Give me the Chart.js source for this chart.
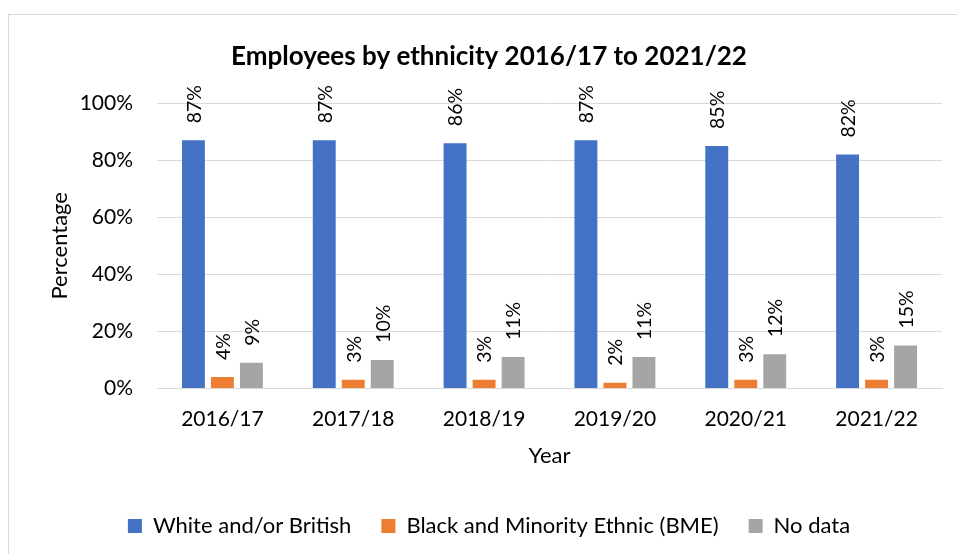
<!DOCTYPE html>
<html>
<head>
<meta charset="utf-8">
<script src="https://cdn.jsdelivr.net/npm/chart.js@4"></script>
<style>
  html, body { margin: 0; padding: 0; background: #fff; }
  #wrap { width: 957px; height: 554px; }
</style>
</head>
<body>
<div id="wrap"><canvas id="c" width="957" height="554"></canvas></div>
<script>
// Employees by ethnicity, percentage of workforce per year
const years = ['2016/17', '2017/18', '2018/19', '2019/20', '2020/21', '2021/22'];
const whiteBritish = [87, 87, 86, 87, 85, 82];
const bme = [4, 3, 3, 2, 3, 3];
const noData = [9, 10, 11, 11, 12, 15];
const yTicks = [0, 20, 40, 60, 80, 100];

const FONT = "Lato, 'Open Sans', 'Liberation Sans', sans-serif";

// Light frame around the chart
const framePlugin = {
  id: 'frame',
  beforeDraw(chart) {
    const ctx = chart.ctx;
    ctx.save();
    ctx.fillStyle = '#fff';
    ctx.fillRect(0, 0, chart.width, chart.height);
    ctx.strokeStyle = '#d9d9d9';
    ctx.lineWidth = 1;
    ctx.strokeRect(8.5, 14.5, 1000, 1000);
    ctx.restore();
  }
};

// Fixed legend box height, with its row nudged down a little
const legendHeight = {
  id: 'legendHeight',
  afterInit(chart) {
    const lg = chart.legend;
    if (!lg) return;
    const fit = lg.fit;
    lg.fit = function () {
      fit.call(this);
      this.height = 82;
    };
  },
  afterLayout(chart) {
    const lg = chart.legend;
    if (!lg) return;
    lg.top += 13;
    lg.bottom += 13;
  }
};

// Value labels written vertically above each bar
const valueLabels = {
  id: 'valueLabels',
  afterDatasetsDraw(chart) {
    const ctx = chart.ctx;
    ctx.save();
    ctx.font = '19.5px ' + FONT;
    ctx.fillStyle = '#000';
    ctx.textAlign = 'left';
    ctx.textBaseline = 'middle';
    chart.data.datasets.forEach((ds, i) => {
      const meta = chart.getDatasetMeta(i);
      meta.data.forEach((bar, j) => {
        ctx.save();
        ctx.translate(bar.x, bar.y - 17);
        ctx.rotate(-Math.PI / 2);
        ctx.fillText(ds.data[j] + '%', 0, 1);
        ctx.restore();
      });
    });
    ctx.restore();
  }
};

new Chart(document.getElementById('c'), {
  type: 'bar',
  data: {
    labels: years,
    datasets: [
      { label: 'White and/or British', data: whiteBritish, backgroundColor: '#4472C4' },
      { label: 'Black and Minority Ethnic (BME)', data: bme, backgroundColor: '#ED7D31' },
      { label: 'No data', data: noData, backgroundColor: '#A5A5A5' }
    ]
  },
  options: {
    responsive: false,
    animation: false,
    devicePixelRatio: 1,
    layout: { padding: { top: 30, left: 36, right: 15, bottom: 0 } },
    datasets: { bar: { categoryPercentage: 0.665, barPercentage: 0.79 } },
    plugins: {
      title: {
        display: true,
        text: 'Employees by ethnicity 2016/17 to 2021/22',
        color: '#000',
        font: { family: FONT, size: 26, weight: 'bold' },
        padding: { top: 11, bottom: 31 }
      },
      legend: {
        position: 'bottom',
        labels: {
          color: '#000',
          font: { family: FONT, size: 22 },
          boxWidth: 14,
          boxHeight: 14,
          padding: 30
        }
      },
      tooltip: { enabled: false }
    },
    scales: {
      x: {
        grid: { display: false, drawTicks: false },
        border: { color: '#d9d9d9', width: 1 },
        ticks: { color: '#000', font: { family: FONT, size: 21 }, padding: 18, maxRotation: 0 },
        title: {
          display: true, text: 'Year', color: '#000',
          font: { family: FONT, size: 22 }, padding: { top: -7, bottom: 3 }
        }
      },
      y: {
        min: 0, max: 100,
        afterBuildTicks(scale) { scale.ticks = yTicks.map(v => ({ value: v })); },
        grid: { color: '#d9d9d9', lineWidth: 1, drawTicks: false },
        border: { display: false },
        ticks: { color: '#000', font: { family: FONT, size: 21 }, padding: 24, callback: v => v + '%' },
        title: {
          display: true, text: 'Percentage', color: '#000',
          font: { family: FONT, size: 22 }, padding: { top: 11, bottom: 0 }
        },
        afterFit(scale) { scale.width = 121; }
      }
    }
  },
  plugins: [framePlugin, legendHeight, valueLabels]
});
</script>
</body>
</html>
